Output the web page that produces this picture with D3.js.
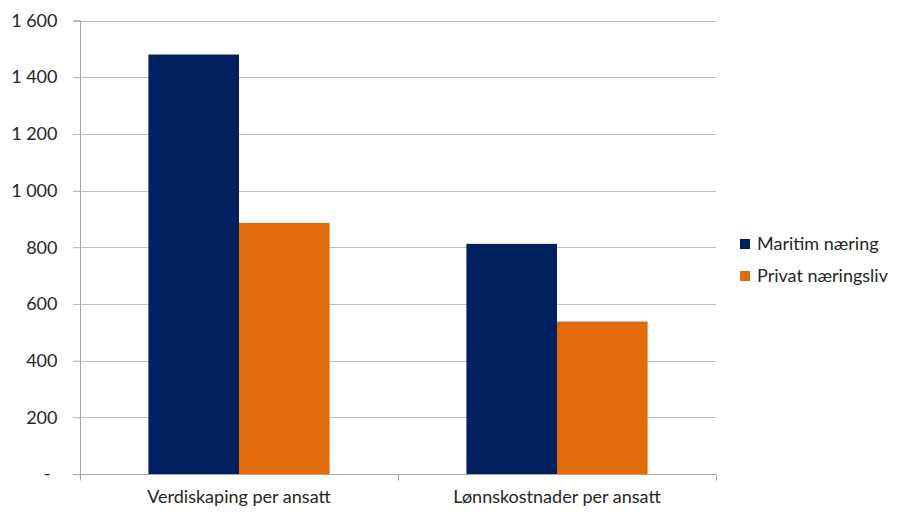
<!DOCTYPE html>
<html><head><meta charset="utf-8">
<script src="https://cdn.jsdelivr.net/npm/d3@7"></script>
<style>body{margin:0;background:#fff}svg{display:block}text{font-family:Lato,"Open Sans",sans-serif;fill:#262626}</style>
</head><body>
<script>
const categories = ["Verdiskaping per ansatt", "Lønnskostnader per ansatt"];
const seriesNames = ["Maritim næring", "Privat næringsliv"];
const maritim = [1480, 812];
const privat = [886, 538];
const yTicks = [0, 200, 400, 600, 800, 1000, 1200, 1400, 1600];
const colors = ["#002060", "#E36C0A"];

(function () {
const W = 903, H = 520;
const mLeft = 80, mRight = 716, mTop = 20.5, mBottom = 474;
const FS = "18px";
const svg = d3.select("body").append("svg").attr("width", W).attr("height", H);

const x = d3.scaleBand().domain(categories).range([mLeft, mRight]).paddingInner(0).paddingOuter(0);
const inner = d3.scaleBand().domain(seriesNames).range([0, x.bandwidth()]).paddingInner(0).paddingOuter(0.755);
const y = d3.scaleLinear().domain([0, 1600]).range([mBottom, mTop]);

const fmt = v => v === 0 ? "-" : d3.format(",")(v).replace(/,/g, "\u00a0");

// gridlines
svg.append("g").selectAll("line").data(yTicks.filter(d => d > 0)).join("line")
  .attr("x1", mLeft - 7).attr("x2", mRight)
  .attr("y1", d => Math.round(y(d)) + 0.5).attr("y2", d => Math.round(y(d)) + 0.5)
  .attr("stroke", "#bfbfbf").attr("stroke-width", 1);

// y axis
const yAxis = d3.axisLeft(y).tickValues(yTicks).tickFormat(fmt).tickSize(7).tickPadding(16);
const gy = svg.append("g").attr("transform", `translate(${mLeft + 0.5},0)`).call(yAxis);
gy.select(".domain").attr("stroke", "#a6a6a6").attr("d", `M-7,${mTop}H0V${mBottom}`);
gy.selectAll(".tick line").attr("stroke", "#bfbfbf");
gy.selectAll(".tick text").style("font-size", FS).style("fill", "#262626").style("font-family", "Lato, sans-serif");
gy.selectAll(".tick text").filter(d => d === 0).attr("x", -30);

// bars
const data = categories.map((c, i) => ({cat: c, vals: [maritim[i], privat[i]]}));
const groups = svg.append("g").selectAll("g").data(data).join("g")
  .attr("transform", d => `translate(${x(d.cat)},0)`);
groups.selectAll("rect").data(d => d.vals.map((v, j) => ({name: seriesNames[j], v, j}))).join("rect")
  .attr("x", d => inner(d.name)).attr("width", inner.bandwidth())
  .attr("y", d => y(d.v)).attr("height", d => y(0) - y(d.v))
  .attr("fill", d => colors[d.j]);

// x axis
const xAxis = d3.axisBottom(x).tickSize(0).tickPadding(16);
const gx = svg.append("g").attr("transform", `translate(0,${mBottom + 0.5})`).call(xAxis);
gx.select(".domain").attr("stroke", "#a6a6a6").attr("d", `M${mLeft - 7},0H${mRight}`);
gx.selectAll(".tick text").style("font-size", FS).style("fill", "#262626").style("font-family", "Lato, sans-serif");
const bounds = [mLeft, mLeft + x.bandwidth(), mRight];
gx.append("g").selectAll("line").data(bounds).join("line")
  .attr("x1", d => d + 0.5).attr("x2", d => d + 0.5).attr("y1", 0).attr("y2", 6)
  .attr("stroke", "#a6a6a6");

// legend
const lg = svg.append("g").attr("transform", "translate(740,244)");
const items = lg.selectAll("g").data(seriesNames).join("g")
  .attr("transform", (d, i) => `translate(0,${i * 32})`);
items.append("rect").attr("x", 0).attr("y", -5).attr("width", 10).attr("height", 10)
  .attr("fill", (d, i) => colors[i]);
items.append("text").attr("x", 17).attr("y", 0).attr("dy", "0.35em")
  .style("font-size", FS).text(d => d);
})();
</script>
</body></html>
